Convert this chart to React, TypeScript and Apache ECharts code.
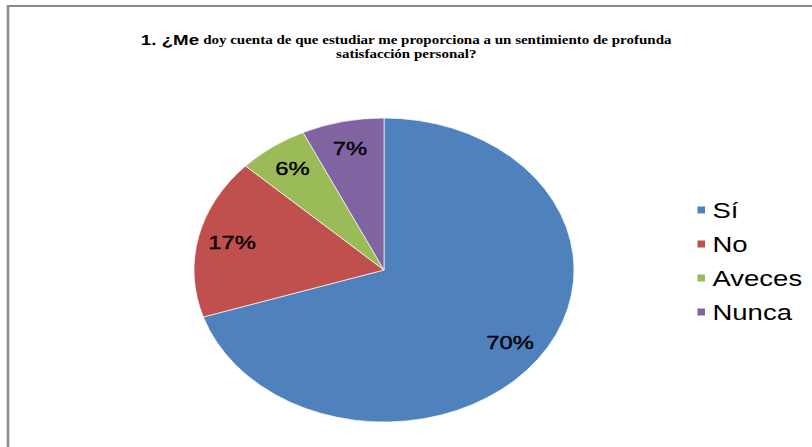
import React, { useEffect, useRef } from 'react';
import * as echarts from 'echarts';

const categories = ['Sí', 'No', 'Aveces', 'Nunca'];
const values = [70, 17, 6, 7];
const sliceColors = ['#4F81BD', '#C0504D', '#9BBB59', '#8064A2'];
const titleLead = '1. ¿Me';
const titleLine1 = 'doy cuenta de que estudiar me proporciona a un sentimiento de profunda';
const titleLine2 = 'satisfacción personal?';

const STRETCH = 1.25;
const W = 812;
const H = 447;
const innerW = W / STRETCH;
const R = 152;

export default function App() {
  const ref = useRef<HTMLDivElement>(null);
  useEffect(() => {
    const chart = echarts.init(ref.current!, null, { renderer: 'svg' });
    const data = categories.map((name, i) => ({
      name,
      value: values[i],
      itemStyle: { color: sliceColors[i] },
    }));
    const labelData = categories.map((name, i) => ({ name, value: values[i] }));
    chart.setOption({
      animation: false,
      backgroundColor: '#ffffff',
      title: {
        left: 'center',
        top: 28,
        text: `{a|${titleLead}}{b|${titleLine1}}\n{b|${titleLine2}}`,
        textStyle: {
          rich: {
            a: {
              fontFamily: 'Liberation Sans',
              fontWeight: 'bold',
              fontSize: 15,
              color: '#000',
              lineHeight: 14,
              padding: [0, 3, 0, 0],
            },
            b: { fontFamily: 'Liberation Serif', fontWeight: 'bold', fontSize: 12, color: '#000', lineHeight: 14 },
          },
        },
      },
      graphic: [
        {
          type: 'rect',
          shape: { x: 8 / STRETCH, y: 6, width: 1000, height: 1000 },
          style: { fill: 'none', stroke: '#8a8a8a', lineWidth: 2 },
          silent: true,
        },
      ],
      legend: {
        orient: 'vertical',
        left: 695 / STRETCH,
        top: 198,
        padding: 0,
        icon: 'rect',
        itemWidth: 8,
        itemHeight: 9,
        itemGap: 10,
        selectedMode: false,
        data: categories.map((name, i) => ({ name, itemStyle: { color: sliceColors[i] } })),
        textStyle: { fontFamily: 'Liberation Sans', fontSize: 22, lineHeight: 24, color: '#000' },
      },
      series: [
        {
          type: 'pie',
          center: [384 / STRETCH, 270],
          radius: [0, R],
          startAngle: 90,
          clockwise: true,
          label: { show: false },
          labelLine: { show: false },
          emphasis: { disabled: true },
          itemStyle: { borderColor: '#ffffff', borderWidth: 0.6 },
          data,
        },
        {
          type: 'pie',
          center: [384 / STRETCH, 270],
          radius: [R * 0.6, R],
          startAngle: 90,
          clockwise: true,
          silent: true,
          emphasis: { disabled: true },
          itemStyle: { color: 'rgba(0,0,0,0)', borderWidth: 0 },
          label: {
            show: true,
            position: 'inside',
            formatter: '{c}%',
            fontFamily: 'Liberation Sans',
            fontSize: 19,
            fontWeight: 'normal',
            color: '#000',
            textBorderColor: '#000',
            textBorderWidth: 0.4,
          },
          labelLine: { show: false },
          data: labelData,
        },
      ],
    });
    return () => chart.dispose();
  }, []);
  return (
    <div style={{ position: 'fixed', left: 0, top: 0, width: W, height: H, overflow: 'hidden', background: '#fff' }}>
      <div
        ref={ref}
        style={{ width: innerW, height: H, transform: `scaleX(${STRETCH})`, transformOrigin: '0 0' }}
      />
    </div>
  );
}
